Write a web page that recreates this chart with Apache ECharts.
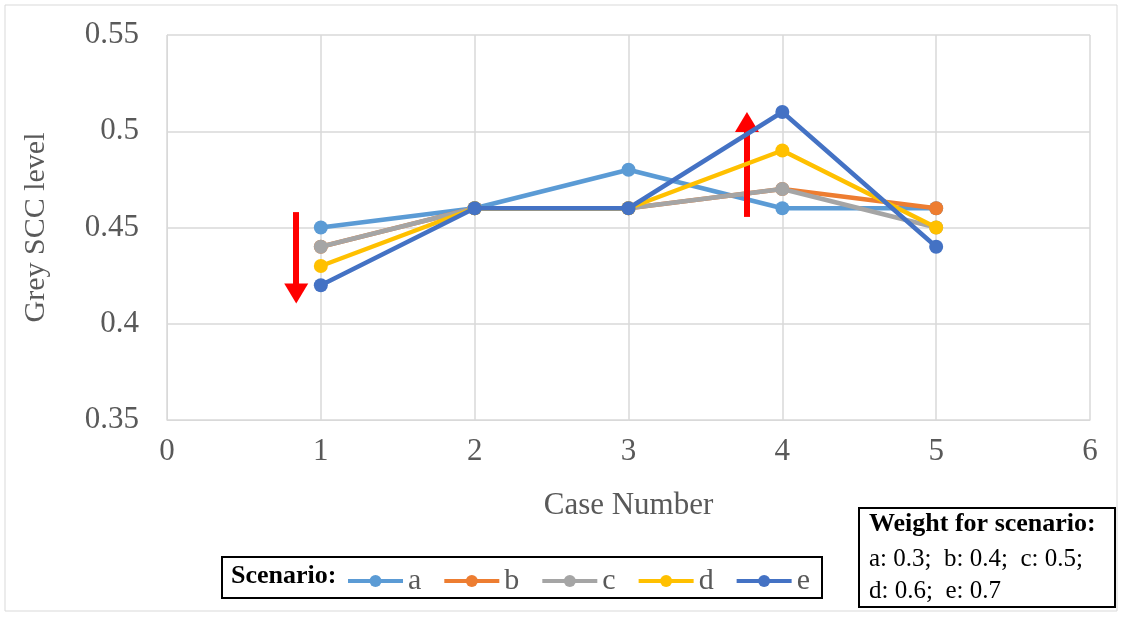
<!DOCTYPE html>
<html><head><meta charset="utf-8">
<script src="https://cdn.jsdelivr.net/npm/echarts@6/dist/echarts.min.js"></script>
<style>html,body{margin:0;padding:0;background:#fff}#c{width:1122px;height:617px}</style>
</head><body><div id="c"></div>
<script>
const cases = [1, 2, 3, 4, 5];
const seriesNames = ['a', 'b', 'c', 'd', 'e'];
const valsA = [0.45, 0.46, 0.48, 0.46, 0.46];
const valsB = [0.44, 0.46, 0.46, 0.47, 0.46];
const valsC = [0.44, 0.46, 0.46, 0.47, 0.45];
const valsD = [0.43, 0.46, 0.46, 0.49, 0.45];
const valsE = [0.42, 0.46, 0.46, 0.51, 0.44];
const colors = ['#5B9BD5', '#ED7D31', '#A5A5A5', '#FFC000', '#4472C4'];
const downArrow = [[0.84, 0.458], [0.84, 0.4157]];
const upArrow = [[3.77, 0.4555], [3.77, 0.5048]];
const allVals = [valsA, valsB, valsC, valsD, valsE];

const font = '"Liberation Serif", "Times New Roman", serif';
const series = seriesNames.map((n, i) => ({
  name: n, type: 'line', data: cases.map((c, j) => [c, allVals[i][j]]),
  symbol: 'circle', symbolSize: 14, lineStyle: {width: 4.5, color: colors[i]},
  itemStyle: {color: colors[i]}, z: 2 + i
}));
series.push({
  name: 'arrows', type: 'line', data: [], silent: true,
  markLine: {
    silent: true, symbol: ['none', 'triangle'], symbolSize: [24, 20],
    lineStyle: {color: '#FF0000', width: 6, type: 'solid'}, label: {show: false},
    data: [
      [{coord: downArrow[0]}, {coord: downArrow[1]}],
      [{coord: upArrow[0]}, {coord: upArrow[1]}]
    ]
  }
});

const chart = echarts.init(document.getElementById('c'));
chart.setOption({
  animation: false,
  color: colors,
  grid: {left: 167, right: 32, top: 35, bottom: 197},
  xAxis: {
    type: 'value', min: 0, max: 6, interval: 1,
    name: 'Case Number', nameLocation: 'middle', nameGap: 70,
    nameTextStyle: {fontFamily: font, fontSize: 31, color: '#595959'},
    axisLine: {show: true, lineStyle: {color: '#D9D9D9'}},
    axisTick: {show: false},
    axisLabel: {fontFamily: font, fontSize: 31, color: '#595959', margin: 16},
    splitLine: {show: true, lineStyle: {color: '#D9D9D9', width: 1.5}}
  },
  yAxis: {
    type: 'value', min: 0.35, max: 0.55, interval: 0.05,
    name: 'Grey SCC level', nameLocation: 'middle', nameGap: 116, nameRotate: 90,
    nameTextStyle: {fontFamily: font, fontSize: 30, color: '#595959'},
    axisLine: {show: true, lineStyle: {color: '#D9D9D9'}},
    axisTick: {show: false},
    axisLabel: {fontFamily: font, fontSize: 31, color: '#595959', margin: 28,
      formatter: v => String(+v.toFixed(2))},
    splitLine: {show: true, lineStyle: {color: '#D9D9D9', width: 1.5}}
  },
  legend: {
    data: seriesNames, left: 341, top: 561, itemWidth: 55, itemHeight: 15, itemGap: 21,
    lineStyle: {width: 4},
    textStyle: {fontFamily: font, fontSize: 30, color: '#595959'}
  },
  graphic: [
    {type: 'rect', shape: {x: 5, y: 5, width: 1112, height: 606}, style: {fill: 'none', stroke: '#D9D9D9', lineWidth: 1}, silent: true},
    {type: 'rect', shape: {x: 222, y: 557, width: 600, height: 41}, style: {fill: 'none', stroke: '#000', lineWidth: 2}, silent: true},
    {type: 'text', left: 231, top: 563, style: {text: 'Scenario:', font: 'bold 26px ' + font, fill: '#000'}},
    {type: 'rect', shape: {x: 859, y: 508, width: 256, height: 99}, style: {fill: '#fff', stroke: '#000', lineWidth: 2}, silent: true},
    {type: 'text', left: 869, top: 511, style: {text: 'Weight for scenario:', font: 'bold 26px ' + font, fill: '#000'}},
    {type: 'text', left: 869, top: 547, style: {text: 'a: 0.3;  b: 0.4;  c: 0.5;', font: '25px ' + font, fill: '#000'}},
    {type: 'text', left: 869, top: 579, style: {text: 'd: 0.6;  e: 0.7', font: '25px ' + font, fill: '#000'}}
  ],
  series: series
});
</script></body></html>
